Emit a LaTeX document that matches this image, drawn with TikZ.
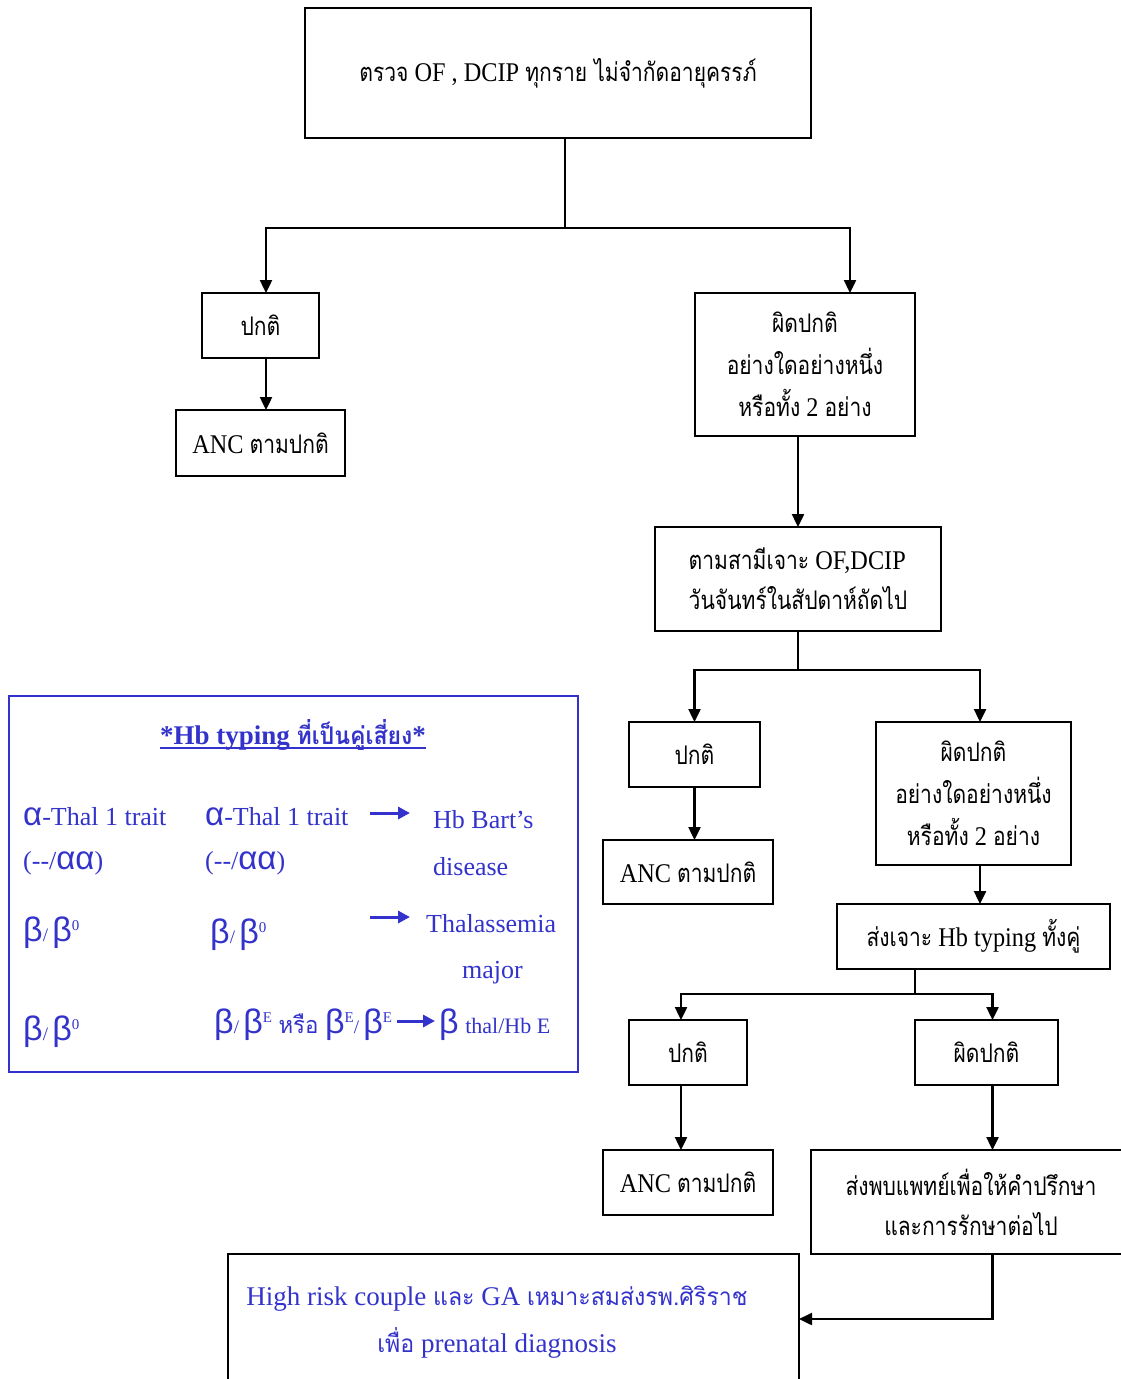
\documentclass[tikz,border=0pt]{standalone}
\usepackage{fontspec}
\setmainfont[FakeStretch=0.9]{Liberation Serif}
\newfontfamily\plainserif{Liberation Serif}
\newfontfamily\thaifont[Script=Thai,Scale=0.95,FakeStretch=0.82]{Loma}
\newfontfamily\thaiplain[Script=Thai,Scale=0.9,FakeStretch=0.95]{Loma}
\newfontfamily\grkfont{Liberation Sans}
\usetikzlibrary{arrows.meta}
\definecolor{legblue}{RGB}{51,51,204}
\newcommand\thx[1]{{\thaifont #1}}
\newcommand\thy[1]{{\thaiplain #1}}
\newcommand\bet{{\grkfont\fontsize{34}{34}\selectfont β}}
\newcommand\alp{{\grkfont\fontsize{33}{33}\selectfont α}}
\newcommand\bsl{{\fontsize{19}{19}\selectfont /}}
\newcommand\bsup[1]{\raisebox{11pt}{\fontsize{15}{15}\selectfont #1}}
\tikzset{
  box/.style={draw, line width=2pt, inner sep=0pt, outer sep=0pt, anchor=north west, align=center,
    font=\fontsize{27}{42}\selectfont},
  conn/.style={line width=2.4pt},
  arr/.style={conn, -{Triangle[length=13pt,width=12pt]}},
  legtext/.style={text=legblue, inner sep=0pt, anchor=base west, font=\plainserif\fontsize{26}{32}\selectfont},
  barr/.style={legblue, line width=3pt, -{Triangle[length=12pt,width=12pt]}}
}
\begin{document}
\begin{tikzpicture}[x=1pt,y=-1pt]
\fill[white] (0,0) rectangle (1120,1379);
\useasboundingbox (0,0) rectangle (1120,1379);

% first screening
\node[box, minimum width=506pt, minimum height=130pt] (top) at (305,8)
  {\thx{ตรวจ} OF , DCIP \thx{ทุกราย ไม่จำกัดอายุครรภ์}};
\node[box, minimum width=117pt, minimum height=65pt] (n1) at (202,293) {\thx{ปกติ}};
\node[box, minimum width=169pt, minimum height=66pt] (a1) at (176,410) {ANC \thx{ตามปกติ}};
\node[box, minimum width=220pt, minimum height=143pt] (ab1) at (695,293)
  {\thx{ผิดปกติ}\\\thx{อย่างใดอย่างหนึ่ง}\\\thx{หรือทั้ง} 2 \thx{อย่าง}};

% husband screening
\node[box, minimum width=286pt, minimum height=104pt, align=left,
  font=\fontsize{27}{40}\selectfont] (h1) at (655,527)
  {\thx{ตามสามีเจาะ} OF,DCIP\\\thx{วันจันทร์ในสัปดาห์ถัดไป}};
\node[box, minimum width=131pt, minimum height=65pt] (n2) at (629,722) {\thx{ปกติ}};
\node[box, minimum width=170pt, minimum height=64pt] (a2) at (603,840) {ANC \thx{ตามปกติ}};
\node[box, minimum width=195pt, minimum height=143pt] (ab2) at (876,722)
  {\thx{ผิดปกติ}\\\thx{อย่างใดอย่างหนึ่ง}\\\thx{หรือทั้ง} 2 \thx{อย่าง}};

% Hb typing
\node[box, minimum width=273pt, minimum height=65pt] (t2) at (837,904)
  {\thx{ส่งเจาะ} Hb typing \thx{ทั้งคู่}};
\node[box, minimum width=118pt, minimum height=65pt] (n3) at (629,1020) {\thx{ปกติ}};
\node[box, minimum width=170pt, minimum height=65pt] (a3) at (603,1150) {ANC \thx{ตามปกติ}};
\node[box, minimum width=143pt, minimum height=65pt] (ab3) at (915,1020) {\thx{ผิดปกติ}};
\node[box, minimum width=320pt, minimum height=104pt, font=\fontsize{27}{40}\selectfont] (r) at (811,1150)
  {\thx{ส่งพบแพทย์เพื่อให้คำปรึกษา}\\\thx{และการรักษาต่อไป}};

% referral box
\node[box, minimum width=571pt, minimum height=200pt] (b) at (228,1254) {};
\node[text=legblue, align=center, inner sep=0pt, font=\plainserif\fontsize{27}{47}\selectfont] (btext) at (497,1322)
  {High risk couple \thy{และ} GA \thy{เหมาะสมส่งรพ.ศิริราช}\\\thy{เพื่อ} prenatal diagnosis};

% connectors
\coordinate (j1) at (565,228);
\draw[conn] ([xshift=7pt]top.south) -- (j1);
\draw[arr] (j1) -| ([xshift=5.5pt]n1.north);
\draw[arr] (j1) -| ([xshift=45pt]ab1.north);
\draw[arr] ([xshift=5.5pt]n1.south) -- ([xshift=5.5pt]a1.north);
\draw[arr] ([xshift=-7pt]ab1.south) -- (h1.north);

\coordinate (j2) at (798,670);
\draw[conn] (h1.south) -- (j2);
\draw[arr] (j2) -| (n2.north);
\draw[arr] (j2) -| ([xshift=6.5pt]ab2.north);
\draw[arr] (n2.south) -- (n2.south |- a2.north);
\draw[arr] ([xshift=6.5pt]ab2.south) -- ([xshift=6.5pt]ab2.south |- t2.north);

\coordinate (j3) at (915,994);
\draw[conn] (t2.south -| j3) -- (j3);
\draw[arr] (j3) -| ([xshift=-7pt]n3.north);
\draw[arr] (j3) -| ([xshift=6pt]ab3.north);
\draw[arr] ([xshift=-7pt]n3.south) -- ([xshift=-7pt]n3.south |- a3.north);
\draw[arr] ([xshift=6pt]ab3.south) -- ([xshift=6pt]ab3.south |- r.north);
\coordinate (rb) at (992.5,1319);
\draw[arr] ([xshift=21.5pt]r.south) -- (rb) -- (rb -| b.east);

% legend of high-risk couples
\node[draw=legblue, line width=1.8pt, inner sep=0pt, outer sep=0pt, anchor=north west,
  minimum width=569pt, minimum height=376pt] (leg) at (9,696) {};
\node[text=legblue, inner sep=0pt, anchor=base, font=\plainserif\fontsize{27}{32}\selectfont\bfseries] (title) at (293,744)
  {*Hb typing \thy{\bfseries ที่เป็นคู่เสี่ยง}*};
\draw[legblue, line width=1.2pt] ([yshift=-4pt]title.base west) -- ([yshift=-4pt]title.base east);

\node[legtext] (r1a) at (23,825) {\alp-Thal 1 trait};
\node[legtext] (r1b) at (205,825) {\alp-Thal 1 trait};
\node[legtext] (r1c) at (433,828) {Hb Bart’s};
\node[legtext] (r2a) at (23,869) {({-}{-}/\alp\alp)};
\node[legtext] (r2b) at (205,869) {({-}{-}/\alp\alp)};
\node[legtext] (r2c) at (433,875) {disease};
\node[legtext] (r3a) at (23,941) {\bet\bsl\,\bet\bsup{0}};
\node[legtext] (r3b) at (210,943) {\bet\bsl\,\bet\bsup{0}};
\node[legtext] (r3c) at (426,932) {Thalassemia};
\node[legtext] (r3d) at (462,978) {major};
\node[legtext] (r4a) at (23,1040) {\bet\bsl\,\bet\bsup{0}};
\node[legtext] (r4b) at (214,1033) {\bet\bsl\,\bet\bsup{E} \thy{หรือ} \bet\bsup{E}\bsl\,\bet\bsup{E}};
\node[legtext] (r4c) at (439,1033) {\bet\ {\fontsize{22}{22}\selectfont thal/Hb E}};

\coordinate (la1) at (370,813);
\coordinate (lb1) at (410,813);
\coordinate (la2) at (370,917);
\coordinate (lb2) at (410,917);
\coordinate (la3) at (397,1021);
\coordinate (lb3) at (435,1021);
\draw[barr] (la1) -- (lb1);
\draw[barr] (la2) -- (lb2);
\draw[barr] (la3) -- (lb3);
\end{tikzpicture}
\end{document}
